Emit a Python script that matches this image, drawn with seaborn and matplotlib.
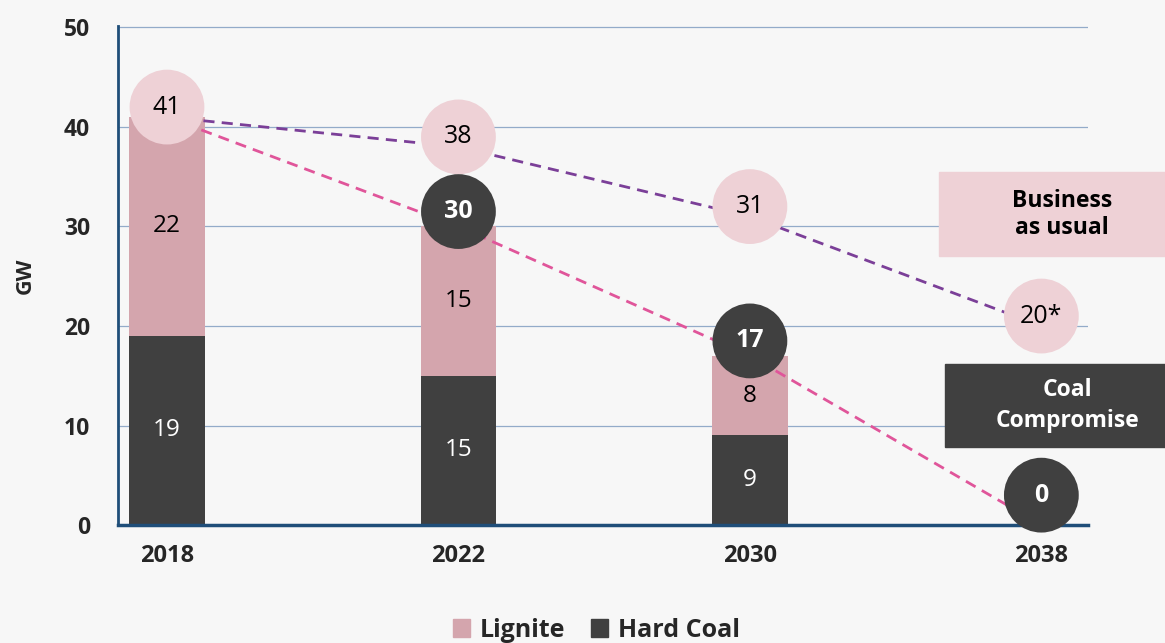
import numpy as np
import matplotlib.pyplot as plt
import seaborn as sns
from matplotlib.patches import Patch, Rectangle

# data
years = ["2018", "2022", "2030", "2038"]
hard_coal = [19, 15, 9, 0]
lignite = [22, 15, 8, 0]
bau = [41, 38, 31, 20]                 # business as usual
bau_labels = ["41", "38", "31", "20*"]
compromise = [41, 30, 17, 0]           # coal compromise path
comp_labels = ["", "30", "17", "0"]

# colours
c_lig = "#d4a5ad"
c_hard = "#404040"
c_bubble = "#eed1d6"
c_purple = "#7b3f98"
c_pink = "#e0559a"
c_axis = "#1f4e79"
bg = "#f7f7f7"

sns.set_theme(style="white")
plt.rcParams["font.family"] = ["Open Sans", "DejaVu Sans"]

fig = plt.figure(figsize=(11.65, 6.43), dpi=100, facecolor=bg)
ax = fig.add_axes([0.1013, 0.1835, 0.8326, 0.7761])
ax.set_facecolor(bg)

x = np.arange(len(years))
totals = np.array(hard_coal) + np.array(lignite)

# stacked bars
sns.barplot(x=x, y=totals, color=c_lig, width=0.26, native_scale=True,
            saturation=1, ax=ax, zorder=2, edgecolor="none", linewidth=0)
sns.barplot(x=x, y=hard_coal, color=c_hard, width=0.26, native_scale=True,
            saturation=1, ax=ax, zorder=2, edgecolor="none", linewidth=0)

for i in range(len(years)):
    if hard_coal[i] > 0:
        ax.text(x[i], hard_coal[i] / 2, str(hard_coal[i]), ha="center", va="center",
                color="white", fontsize=17.5, zorder=3)
    if lignite[i] > 0:
        ax.text(x[i], hard_coal[i] + lignite[i] / 2, str(lignite[i]), ha="center",
                va="center", color="black", fontsize=17.5, zorder=3)

# scenario lines
sns.lineplot(x=x, y=bau, color=c_purple, lw=2, dashes=False, ax=ax, zorder=4)
sns.lineplot(x=x, y=compromise, color=c_pink, lw=2, dashes=False, ax=ax, zorder=4)
for ln in ax.lines:
    ln.set_linestyle((0, (4, 2.6)))

# bubbles
bau_y = np.array(bau) + 1.0
sns.scatterplot(x=x, y=bau_y, s=2900, color=c_bubble, edgecolor="none",
                ax=ax, zorder=5, legend=False)
for i in range(len(years)):
    ax.text(x[i], bau_y[i], bau_labels[i], ha="center", va="center",
            fontsize=18, color="black", zorder=6)

comp_x = x[1:]
comp_y = np.maximum(np.array(compromise[1:]) + 1.5, 3.0)
sns.scatterplot(x=comp_x, y=comp_y, s=2900, color=c_hard, edgecolor="none",
                ax=ax, zorder=5, legend=False, clip_on=False)
for i, xi in enumerate(comp_x):
    ax.text(xi, comp_y[i], comp_labels[i + 1], ha="center", va="center",
            fontsize=18, fontweight="bold", color="white", zorder=6)

# scenario boxes
ax.add_patch(Rectangle((2.65, 27.05), 2, 8.45, color=c_bubble, clip_on=False, zorder=3))
ax.text(3.07, 31.2, "Business\nas usual", ha="center", va="center", fontsize=16.5,
        fontweight="bold", color="black", linespacing=1.15, zorder=4)
ax.add_patch(Rectangle((2.67, 7.8), 2, 8.4, color=c_hard, clip_on=False, zorder=3))
ax.text(3.09, 12.0, "Coal\nCompromise", ha="center", va="center", fontsize=16.5,
        fontweight="bold", color="white", linespacing=1.35, zorder=4)

# axes
ax.set_xlim(-0.168, 3.16)
ax.set_ylim(0, 50.15)
ax.set_yticks(range(0, 51, 10))
ax.set_xticks(x, years)
ax.tick_params(axis="both", length=0)
ax.tick_params(axis="x", pad=14)
ax.tick_params(axis="y", pad=20)
for lab in ax.get_xticklabels():
    lab.set_fontsize(17)
    lab.set_fontweight("bold")
for lab in ax.get_yticklabels():
    lab.set_fontsize(16.5)
    lab.set_fontweight("bold")
ax.set_xlabel("")
ax.set_ylabel("GW", fontsize=15.5, fontweight="bold", labelpad=20)
ax.yaxis.grid(True, color="#93abc9", lw=0.9, zorder=0)
ax.set_axisbelow(True)
for s in ["top", "right"]:
    ax.spines[s].set_visible(False)
ax.spines["left"].set_color(c_axis)
ax.spines["left"].set_linewidth(2)
ax.spines["bottom"].set_color(c_axis)
ax.spines["bottom"].set_linewidth(2.5)

handles = [Patch(color=c_lig, label="Lignite"), Patch(color=c_hard, label="Hard Coal")]
fig.legend(handles=handles, loc="center", bbox_to_anchor=(0.512, 0.02), ncol=2,
           frameon=False, handlelength=0.7, handleheight=0.7, handletextpad=0.4,
           columnspacing=1.0, prop={"size": 18, "weight": "bold"})

fig.savefig("out.png", dpi=100, facecolor=bg)
